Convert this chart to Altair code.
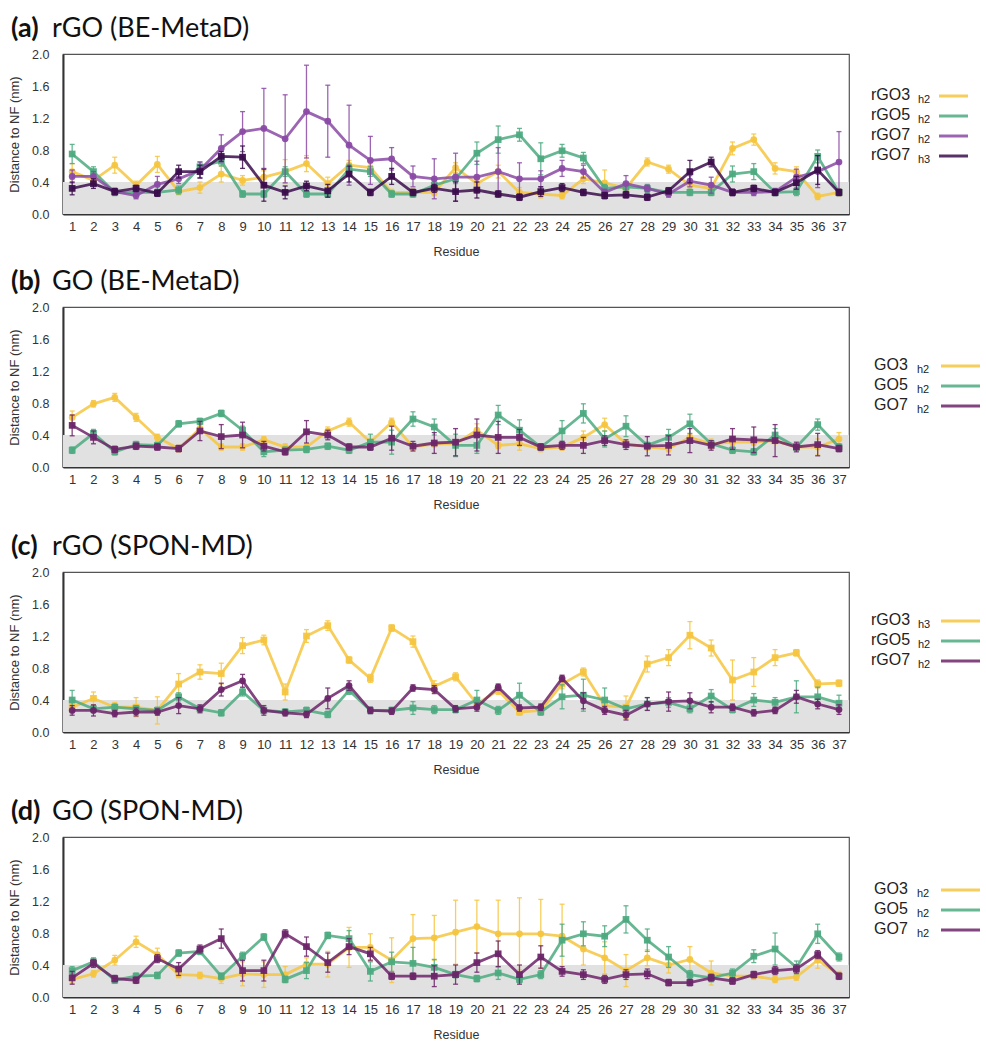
import altair as alt
import pandas as pd

RESIDUES = list(range(1, 38))
Y_TICKS = [0.0, 0.4, 0.8, 1.2, 1.6, 2.0]
BAND_TOP = 0.4

# ---------------- (a) rGO (BE-MetaD) ----------------
A_RGO3 = [0.53,0.42,0.61,0.36,0.62,0.28,0.33,0.50,0.42,0.46,0.53,0.63,0.38,0.61,0.58,0.27,0.27,0.27,0.58,0.38,0.53,0.27,0.25,0.23,0.44,0.39,0.32,0.65,0.56,0.36,0.32,0.82,0.93,0.57,0.53,0.22,0.27]
A_RGO3_ERR = [0.10,0.06,0.10,0.05,0.10,0.04,0.07,0.10,0.06,0.08,0.15,0.10,0.08,0.06,0.06,0.04,0.04,0.04,0.06,0.06,0.08,0.06,0.05,0.04,0.06,0.16,0.05,0.05,0.05,0.06,0.06,0.08,0.07,0.07,0.06,0.04,0.04]
A_RGO5 = [0.75,0.53,0.27,0.27,0.27,0.30,0.59,0.66,0.25,0.25,0.53,0.25,0.25,0.56,0.53,0.25,0.25,0.36,0.44,0.76,0.93,0.99,0.69,0.79,0.70,0.32,0.34,0.32,0.27,0.27,0.27,0.50,0.53,0.27,0.28,0.72,0.27]
A_RGO5_ERR = [0.12,0.06,0.04,0.04,0.04,0.05,0.06,0.06,0.04,0.04,0.06,0.04,0.04,0.06,0.06,0.04,0.04,0.05,0.06,0.14,0.17,0.08,0.20,0.08,0.07,0.05,0.05,0.05,0.04,0.04,0.04,0.10,0.10,0.04,0.05,0.08,0.04]
A_RGO7H2 = [0.47,0.47,0.28,0.23,0.37,0.44,0.55,0.82,1.03,1.07,0.94,1.28,1.16,0.86,0.67,0.69,0.47,0.44,0.46,0.46,0.53,0.44,0.44,0.57,0.53,0.27,0.38,0.32,0.25,0.41,0.36,0.27,0.27,0.28,0.46,0.53,0.65]
A_RGO7H2_ERR = [0.08,0.06,0.04,0.04,0.10,0.06,0.10,0.17,0.25,0.50,0.55,0.58,0.45,0.50,0.30,0.14,0.13,0.25,0.30,0.20,0.30,0.20,0.10,0.10,0.08,0.04,0.10,0.04,0.04,0.07,0.10,0.04,0.04,0.04,0.10,0.20,0.38]
A_RGO7H3 = [0.32,0.38,0.28,0.32,0.26,0.53,0.53,0.72,0.71,0.36,0.27,0.35,0.29,0.50,0.27,0.47,0.27,0.32,0.28,0.30,0.25,0.21,0.28,0.33,0.27,0.23,0.24,0.21,0.29,0.53,0.65,0.27,0.32,0.27,0.39,0.55,0.27]
A_RGO7H3_ERR = [0.08,0.06,0.04,0.04,0.04,0.08,0.08,0.06,0.14,0.20,0.08,0.06,0.08,0.10,0.04,0.10,0.04,0.05,0.12,0.10,0.04,0.04,0.06,0.05,0.04,0.04,0.04,0.04,0.04,0.14,0.06,0.04,0.04,0.04,0.08,0.18,0.04]

# ---------------- (b) GO (BE-MetaD) ----------------
B_GO3 = [0.62,0.79,0.87,0.62,0.37,0.23,0.48,0.25,0.25,0.34,0.25,0.25,0.45,0.56,0.31,0.56,0.25,0.29,0.29,0.46,0.27,0.29,0.23,0.25,0.37,0.53,0.29,0.25,0.23,0.37,0.29,0.31,0.31,0.33,0.25,0.25,0.35]
B_GO3_ERR = [0.08,0.04,0.05,0.05,0.04,0.04,0.06,0.04,0.04,0.04,0.04,0.04,0.05,0.05,0.04,0.05,0.04,0.04,0.04,0.08,0.04,0.08,0.04,0.04,0.08,0.08,0.04,0.04,0.04,0.04,0.06,0.04,0.04,0.04,0.04,0.10,0.08]
B_GO5 = [0.21,0.42,0.19,0.28,0.27,0.54,0.57,0.67,0.46,0.19,0.21,0.22,0.26,0.21,0.31,0.31,0.60,0.50,0.27,0.27,0.65,0.46,0.25,0.45,0.67,0.35,0.51,0.27,0.37,0.54,0.29,0.21,0.19,0.40,0.25,0.53,0.25]
B_GO5_ERR = [0.04,0.05,0.04,0.04,0.04,0.04,0.04,0.04,0.05,0.06,0.04,0.04,0.04,0.04,0.10,0.15,0.09,0.10,0.14,0.10,0.12,0.13,0.04,0.13,0.12,0.10,0.13,0.04,0.10,0.12,0.04,0.04,0.04,0.08,0.04,0.07,0.04]
B_GO7 = [0.52,0.37,0.22,0.26,0.25,0.23,0.45,0.38,0.40,0.26,0.19,0.44,0.40,0.25,0.25,0.36,0.26,0.30,0.31,0.40,0.37,0.37,0.25,0.27,0.27,0.33,0.28,0.26,0.27,0.33,0.27,0.35,0.34,0.33,0.25,0.28,0.23]
B_GO7_ERR = [0.13,0.08,0.04,0.04,0.04,0.04,0.12,0.15,0.16,0.06,0.04,0.14,0.06,0.04,0.04,0.15,0.06,0.13,0.17,0.20,0.20,0.10,0.04,0.05,0.10,0.06,0.06,0.12,0.12,0.15,0.06,0.13,0.16,0.20,0.06,0.14,0.04]

# ---------------- (c) rGO (SPON-MD) ----------------
C_RGO3 = [0.31,0.42,0.31,0.31,0.27,0.60,0.75,0.73,1.08,1.15,0.50,1.20,1.33,0.90,0.67,1.30,1.13,0.57,0.69,0.35,0.52,0.25,0.27,0.60,0.75,0.33,0.31,0.85,0.93,1.21,1.05,0.65,0.75,0.93,0.99,0.60,0.61]
C_RGO3_ERR = [0.05,0.08,0.06,0.12,0.17,0.13,0.09,0.13,0.10,0.06,0.10,0.08,0.06,0.04,0.05,0.04,0.07,0.07,0.05,0.05,0.05,0.04,0.04,0.06,0.05,0.05,0.14,0.10,0.10,0.17,0.10,0.25,0.18,0.10,0.04,0.05,0.04]
C_RGO5 = [0.40,0.29,0.31,0.29,0.27,0.44,0.29,0.24,0.50,0.27,0.25,0.27,0.22,0.52,0.27,0.27,0.30,0.28,0.28,0.40,0.27,0.46,0.25,0.44,0.46,0.40,0.29,0.35,0.37,0.29,0.45,0.28,0.40,0.37,0.44,0.44,0.36]
C_RGO5_ERR = [0.12,0.04,0.04,0.04,0.04,0.05,0.04,0.04,0.05,0.04,0.04,0.04,0.04,0.05,0.04,0.04,0.08,0.05,0.04,0.12,0.05,0.15,0.04,0.15,0.20,0.15,0.04,0.08,0.06,0.05,0.08,0.04,0.08,0.06,0.20,0.12,0.10]
C_RGO7 = [0.27,0.27,0.23,0.25,0.25,0.33,0.29,0.53,0.64,0.27,0.24,0.22,0.42,0.58,0.27,0.26,0.55,0.53,0.29,0.31,0.56,0.30,0.31,0.67,0.39,0.27,0.21,0.35,0.38,0.39,0.31,0.31,0.24,0.27,0.44,0.35,0.28]
C_RGO7_ERR = [0.06,0.07,0.04,0.05,0.04,0.10,0.05,0.08,0.08,0.06,0.04,0.04,0.13,0.06,0.04,0.04,0.04,0.05,0.04,0.05,0.04,0.04,0.04,0.04,0.10,0.05,0.06,0.08,0.12,0.10,0.07,0.04,0.04,0.04,0.08,0.06,0.06]

# ---------------- (d) GO (SPON-MD) ----------------
D_GO3 = [0.22,0.29,0.46,0.69,0.53,0.28,0.27,0.23,0.29,0.28,0.28,0.41,0.41,0.62,0.62,0.46,0.73,0.74,0.81,0.88,0.79,0.79,0.79,0.76,0.60,0.49,0.33,0.49,0.40,0.47,0.30,0.26,0.26,0.22,0.25,0.46,0.28]
D_GO3_ERR = [0.05,0.04,0.06,0.07,0.08,0.04,0.04,0.06,0.15,0.16,0.10,0.08,0.16,0.25,0.17,0.28,0.30,0.28,0.40,0.33,0.42,0.45,0.43,0.40,0.20,0.20,0.20,0.10,0.10,0.16,0.15,0.04,0.04,0.04,0.04,0.10,0.04]
D_GO5 = [0.33,0.44,0.21,0.26,0.27,0.55,0.57,0.26,0.51,0.75,0.22,0.33,0.77,0.73,0.32,0.44,0.42,0.37,0.28,0.23,0.30,0.22,0.28,0.71,0.79,0.76,0.97,0.71,0.50,0.28,0.24,0.30,0.51,0.60,0.37,0.79,0.50]
D_GO5_ERR = [0.05,0.05,0.04,0.04,0.04,0.04,0.04,0.04,0.05,0.04,0.04,0.10,0.04,0.10,0.12,0.12,0.20,0.10,0.04,0.04,0.08,0.04,0.05,0.20,0.15,0.13,0.17,0.14,0.13,0.05,0.05,0.05,0.08,0.20,0.08,0.12,0.05]
D_GO7 = [0.24,0.42,0.23,0.21,0.48,0.35,0.60,0.73,0.33,0.33,0.79,0.63,0.43,0.63,0.54,0.26,0.26,0.26,0.28,0.43,0.54,0.28,0.50,0.32,0.28,0.22,0.28,0.29,0.18,0.18,0.24,0.20,0.28,0.33,0.35,0.53,0.26]
D_GO7_ERR = [0.08,0.05,0.04,0.04,0.05,0.08,0.05,0.12,0.13,0.13,0.05,0.12,0.12,0.10,0.08,0.04,0.04,0.13,0.12,0.12,0.16,0.12,0.14,0.06,0.06,0.05,0.06,0.06,0.04,0.04,0.04,0.04,0.04,0.05,0.05,0.05,0.04]

YELLOW = "#F6C53F"
GREEN = "#4DAA80"
LPURPLE = "#8A4AA5"
DPURPLE = "#3B0D4C"
MPURPLE = "#6C2569"

W, H = 786, 160
FONT = "Liberation Sans"
TFONT = "Lato"

xscale = alt.Scale(domain=[0.57, 37.47], nice=False, zero=False)
yscale = alt.Scale(domain=[0, 2.0], nice=False)
xaxis = alt.Axis(values=RESIDUES, format="d", title="Residue", labelOverlap=False,
                 labelFlush=False, grid=False, ticks=False, labelPadding=6,
                 labelFontSize=13, titleFontSize=12.5, titlePadding=12,
                 titleFontWeight="normal", domainColor="#333", domainWidth=2)
yaxis = alt.Axis(values=Y_TICKS, format=".1f", title="Distance to NF (nm)", grid=False,
                 ticks=False, labelPadding=14, labelFontSize=12.5, titleFontSize=13,
                 titleFontWeight="normal", titlePadding=10, domainColor="#333", domainWidth=2)


def series_layers(vals, errs, color, shape):
    df = pd.DataFrame({"res": RESIDUES, "v": vals, "e": errs})
    df["lo"] = df["v"] - df["e"]
    df["hi"] = df["v"] + df["e"]
    base = alt.Chart(df)
    x = alt.X("res:Q", scale=xscale, axis=xaxis)
    rule = base.mark_rule(color=color, strokeWidth=1.3, opacity=0.85).encode(
        x=x, y=alt.Y("lo:Q", scale=yscale, axis=yaxis), y2="hi:Q")
    cap_lo = base.mark_tick(color=color, orient="horizontal", size=5, thickness=1.3, opacity=0.85).encode(
        x=x, y=alt.Y("lo:Q", scale=yscale, axis=yaxis))
    cap_hi = base.mark_tick(color=color, orient="horizontal", size=5, thickness=1.3, opacity=0.85).encode(
        x=x, y=alt.Y("hi:Q", scale=yscale, axis=yaxis))
    line = base.mark_line(color=color, strokeWidth=2.8, opacity=0.85).encode(
        x=x, y=alt.Y("v:Q", scale=yscale, axis=yaxis))
    pts = base.mark_point(color=color, filled=True, size=45, shape=shape, opacity=0.95).encode(
        x=x, y=alt.Y("v:Q", scale=yscale, axis=yaxis))
    return [rule, cap_lo, cap_hi, line, pts]


def legend_layers(entries, y0, dy, text_x, sub_x, line_x1, line_x2):
    out = []
    for i, (lab, sub, color) in enumerate(entries):
        yy = y0 + i * dy
        d = alt.Chart(pd.DataFrame({"t": [lab], "s": [sub]}))
        out.append(d.mark_text(align="left", baseline="middle", font=FONT, fontSize=16,
                               color="#222").encode(x=alt.value(text_x), y=alt.value(yy), text="t:N"))
        out.append(d.mark_text(align="left", baseline="middle", font=FONT, fontSize=11,
                               color="#222").encode(x=alt.value(sub_x), y=alt.value(yy + 5), text="s:N"))
        out.append(d.mark_rule(color=color, strokeWidth=3, opacity=0.85).encode(
            x=alt.value(line_x1), x2=alt.value(line_x2), y=alt.value(yy + 1)))
    return out


def panel(tag, name, series, legend):
    band = alt.Chart(pd.DataFrame({"lo": [0.0], "hi": [BAND_TOP]})).mark_rect(
        color="#E1E1E1").encode(x=alt.value(0), x2=alt.value(W),
                                y=alt.Y("lo:Q", scale=yscale, axis=yaxis), y2="hi:Q")
    layers = [band]
    for vals, errs, color, shape in series:
        layers += series_layers(vals, errs, color, shape)
    t = alt.Chart(pd.DataFrame({"a": [tag], "b": [name]}))
    layers.append(t.mark_text(align="left", baseline="alphabetic", font=TFONT, fontSize=27,
                              fontWeight="bold", color="#111").encode(
        x=alt.value(-52), y=alt.value(-17), text="a:N"))
    layers.append(t.mark_text(align="left", baseline="alphabetic", font=TFONT, fontSize=27,
                              color="#111").encode(
        x=alt.value(-11), y=alt.value(-17), text="b:N"))
    layers += legend
    return alt.layer(*layers).properties(width=W, height=H)


pa = panel("(a)", "rGO (BE-MetaD)",
           [(A_RGO3, A_RGO3_ERR, YELLOW, "circle"), (A_RGO5, A_RGO5_ERR, GREEN, "square"),
            (A_RGO7H2, A_RGO7H2_ERR, LPURPLE, "circle"), (A_RGO7H3, A_RGO7H3_ERR, DPURPLE, "square")],
           legend_layers([("rGO3", "h2", YELLOW), ("rGO5", "h2", GREEN), ("rGO7", "h2", LPURPLE),
                          ("rGO7", "h3", DPURPLE)], 41, 20, 808, 855, 876, 905))
pb = panel("(b)", "GO (BE-MetaD)",
           [(B_GO3, B_GO3_ERR, YELLOW, "circle"), (B_GO5, B_GO5_ERR, GREEN, "square"),
            (B_GO7, B_GO7_ERR, MPURPLE, "square")],
           legend_layers([("GO3", "h2", YELLOW), ("GO5", "h2", GREEN), ("GO7", "h2", MPURPLE)],
                         58, 20, 811, 854, 878, 917))
pc = panel("(c)", "rGO (SPON-MD)",
           [(C_RGO3, C_RGO3_ERR, YELLOW, "square"), (C_RGO5, C_RGO5_ERR, GREEN, "square"),
            (C_RGO7, C_RGO7_ERR, MPURPLE, "circle")],
           legend_layers([("rGO3", "h3", YELLOW), ("rGO5", "h2", GREEN), ("rGO7", "h2", MPURPLE)],
                         48, 20, 808, 855, 878, 917))
pd_ = panel("(d)", "GO (SPON-MD)",
            [(D_GO3, D_GO3_ERR, YELLOW, "circle"), (D_GO5, D_GO5_ERR, GREEN, "square"),
             (D_GO7, D_GO7_ERR, MPURPLE, "square")],
            legend_layers([("GO3", "h2", YELLOW), ("GO5", "h2", GREEN), ("GO7", "h2", MPURPLE)],
                          52, 20, 811, 854, 878, 917))

chart = alt.vconcat(pa, alt.vconcat(pb, pc, pd_, spacing=20), spacing=8).properties(
    padding={"left": 8, "top": 14, "right": 2, "bottom": 2}
).configure_view(stroke="#555", strokeWidth=1.2).configure_axis(
    labelFont=FONT, titleFont=FONT, labelColor="#333", titleColor="#333", titleFontWeight="normal"
)

chart.save("out.html", embed_options={"renderer": "svg", "actions": False})
